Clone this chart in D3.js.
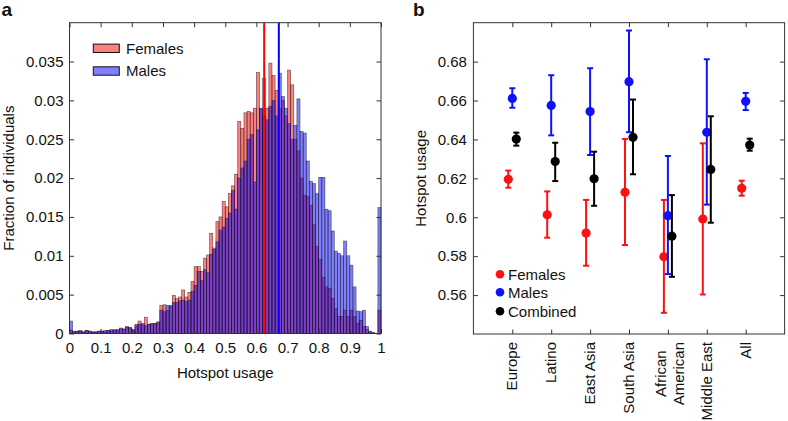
<!DOCTYPE html>
<html><head><meta charset="utf-8">
<script src="https://cdn.jsdelivr.net/npm/d3@7"></script>
<style>
body{margin:0;background:#fff}
svg{display:block}
text{font-family:"Liberation Sans",Arial,Helvetica,sans-serif;fill:#111}
</style>
</head><body>
<svg id="chart" width="788" height="421"></svg>
<script>
// ---------- Panel a data ----------
const binWidth = 0.01;
const females = [
 0.0004,0.0002,0.0003,0.0003,0.0002,0.0004,0.0003,0.0002,0.0002,0.0003,
 0.0003,0.0002,0.0004,0.0003,0.0005,0.0004,0.0007,0.0005,0.0008,0.0007,
 0.0005,0.0012,0.0016,0.0011,0.0021,0.0012,0.0013,0.0013,0.0015,0.0036,
 0.0037,0.0030,0.0036,0.0049,0.0045,0.0047,0.0056,0.0047,0.0053,0.0067,
 0.0086,0.0086,0.0080,0.0097,0.0101,0.0129,0.0110,0.0144,0.0150,0.0170,
 0.0163,0.0180,0.0190,0.0205,0.0273,0.0264,0.0284,0.0286,0.0284,0.0290,
 0.0336,0.0289,0.0328,0.0290,0.0348,0.0332,0.0313,0.0290,0.0300,0.0280,
 0.0339,0.0320,0.0250,0.0235,0.0200,0.0178,0.0176,0.0165,0.0140,0.0112,
 0.0095,0.0072,0.0060,0.0058,0.0045,0.0032,0.0022,0.0022,0.0030,0.0022,
 0.0030,0.0022,0.0013,0.0017,0.0009,0.0005,0.0002,0.0001,0.0000,0.0030
];
const males = [
 0.0016,0.0003,0.0003,0.0004,0.0002,0.0004,0.0003,0.0002,0.0002,0.0003,
 0.0003,0.0004,0.0004,0.0005,0.0004,0.0005,0.0006,0.0006,0.0009,0.0008,
 0.0004,0.0010,0.0012,0.0013,0.0010,0.0012,0.0012,0.0013,0.0014,0.0030,
 0.0028,0.0036,0.0035,0.0040,0.0040,0.0042,0.0043,0.0041,0.0043,0.0054,
 0.0062,0.0080,0.0068,0.0082,0.0078,0.0102,0.0108,0.0118,0.0133,0.0137,
 0.0148,0.0155,0.0184,0.0160,0.0200,0.0213,0.0222,0.0250,0.0256,0.0195,
 0.0262,0.0290,0.0280,0.0275,0.0292,0.0300,0.0280,0.0335,0.0305,0.0290,
 0.0270,0.0250,0.0268,0.0302,0.0260,0.0258,0.0222,0.0196,0.0193,0.0180,
 0.0201,0.0201,0.0160,0.0158,0.0132,0.0106,0.0103,0.0100,0.0119,0.0100,
 0.0088,0.0060,0.0029,0.0028,0.0030,0.0009,0.0003,0.0001,0.0000,0.0162
];
const femaleMean = 0.625;
const maleMean = 0.672;
const histXTicks = [0,0.1,0.2,0.3,0.4,0.5,0.6,0.7,0.8,0.9,1];
const histXTickLabels = ["0","0.1","0.2","0.3","0.4","0.5","0.6","0.7","0.8","0.9","1"];
const histYTicks = [0,0.005,0.01,0.015,0.02,0.025,0.03,0.035];
const histYTickLabels = ["0","0.005","0.01","0.015","0.02","0.025","0.03","0.035"];
const histLegend = ["Females","Males"];

// ---------- Panel b data ----------
const categories = ["Europe","Latino","East Asia","South Asia","African American","Middle East","All"];
const femaleVal  = [0.6195,0.6013,0.5919,0.6128,0.5797,0.5991,0.6149];
const femaleLow  = [0.6152,0.5895,0.5751,0.5857,0.5509,0.5603,0.6111];
const femaleHigh = [0.6240,0.6133,0.6089,0.6402,0.6089,0.6380,0.6188];
const maleVal    = [0.6611,0.6575,0.6543,0.6697,0.6008,0.6437,0.6596];
const maleLow    = [0.6563,0.6421,0.6320,0.6437,0.5708,0.6065,0.6551];
const maleHigh   = [0.6663,0.6730,0.6766,0.6960,0.6315,0.6812,0.6639];
const combVal    = [0.6402,0.6286,0.6198,0.6411,0.5903,0.6246,0.6371];
const combLow    = [0.6368,0.6186,0.6059,0.6221,0.5694,0.5972,0.6342];
const combHigh   = [0.6435,0.6383,0.6337,0.6605,0.6114,0.6519,0.6404];
const dotYTicks = [0.56,0.58,0.60,0.62,0.64,0.66,0.68];
const dotYTickLabels = ["0.56","0.58","0.6","0.62","0.64","0.66","0.68"];
const seriesNames = ["Females","Males","Combined"];

// ---------- drawing ----------
const svg = d3.select("#chart");
const axisColor = "#333";
const FS = 15;

function styleAxis(g){
  g.select(".domain").remove();
  g.selectAll(".tick line").attr("stroke",axisColor).attr("stroke-width",1);
  g.selectAll(".tick text").attr("font-size",FS).attr("fill","#111")
   .attr("font-family",'"Liberation Sans",Arial,Helvetica,sans-serif');
}

// ===== Panel a =====
const xA = d3.scaleLinear().domain([0,1]).range([69.5,381]);
const yA = d3.scaleLinear().domain([0,0.04]).range([333.5,22.7]);
const gA = svg.append("g");

function drawBars(vals, color){
  gA.append("g").selectAll("rect")
    .data(vals.map((v,i)=>({v,i})).filter(d=>d.v>0))
    .join("rect")
    .attr("x",d=>xA(d.i*binWidth))
    .attr("width",d=>xA((d.i+1)*binWidth)-xA(d.i*binWidth))
    .attr("y",d=>yA(d.v))
    .attr("height",d=>yA(0)-yA(d.v))
    .attr("fill",color).attr("fill-opacity",0.5)
    .attr("stroke","#1a1a1a").attr("stroke-opacity",0.7).attr("stroke-width",0.6);
}
drawBars(females,"rgb(255,0,0)");
drawBars(males,"rgb(0,0,255)");

gA.append("line").attr("x1",xA(femaleMean)).attr("x2",xA(femaleMean))
  .attr("y1",yA(0)).attr("y2",yA(0.04)).attr("stroke","#ff0000").attr("stroke-width",2);
gA.append("line").attr("x1",xA(maleMean)).attr("x2",xA(maleMean))
  .attr("y1",yA(0)).attr("y2",yA(0.04)).attr("stroke","#0000ff").attr("stroke-width",2);

gA.append("g").attr("transform",`translate(0,${yA(0)})`)
  .call(d3.axisBottom(xA).tickValues(histXTicks).tickFormat((d,i)=>histXTickLabels[i])
    .tickSizeInner(-4.5).tickSizeOuter(0).tickPadding(9)).call(styleAxis);
gA.append("g").attr("transform",`translate(0,${yA(0.04)})`)
  .call(d3.axisTop(xA).tickValues(histXTicks).tickFormat("")
    .tickSizeInner(-4.5).tickSizeOuter(0)).call(styleAxis);
gA.append("g").attr("transform",`translate(${xA(0)},0)`)
  .call(d3.axisLeft(yA).tickValues(histYTicks).tickFormat((d,i)=>histYTickLabels[i])
    .tickSizeInner(-4.5).tickSizeOuter(0).tickPadding(6)).call(styleAxis);
gA.append("g").attr("transform",`translate(${xA(1)},0)`)
  .call(d3.axisRight(yA).tickValues(histYTicks).tickFormat("")
    .tickSizeInner(-4.5).tickSizeOuter(0)).call(styleAxis);
gA.append("rect").attr("x",xA(0)).attr("y",yA(0.04))
  .attr("width",xA(1)-xA(0)).attr("height",yA(0)-yA(0.04))
  .attr("fill","none").attr("stroke",axisColor).attr("stroke-width",1);

// legend a
const legA = gA.append("g");
[["rgb(255,0,0)",48.3],["rgb(0,0,255)",71]].forEach((c,i)=>{
  legA.append("rect").attr("x",93.3).attr("y",c[1]-4.2).attr("width",26).attr("height",8.4)
    .attr("fill",c[0]).attr("fill-opacity",0.5).attr("stroke","#111").attr("stroke-width",1);
  legA.append("text").attr("x",126).attr("y",c[1]+5.2).attr("font-size",FS).text(histLegend[i]);
});

gA.append("text").attr("x",(xA(0)+xA(1))/2).attr("y",377.5).attr("text-anchor","middle")
  .attr("font-size",FS).text("Hotspot usage");
gA.append("text").attr("transform",`translate(14,${(yA(0)+yA(0.04))/2}) rotate(-90)`)
  .attr("text-anchor","middle").attr("font-size",FS).text("Fraction of individuals");
svg.append("text").attr("x",1.5).attr("y",16).attr("font-size",19).attr("font-weight","bold").text("a");

// ===== Panel b =====
const xB = d3.scaleLinear().domain([-1,categories.length]).range([473.4,784.6]);
const yB = d3.scaleLinear().domain([0.54,0.70]).range([334,22.7]);
const gB = svg.append("g");
const idx = categories.map((c,i)=>i);

gB.append("g").attr("transform",`translate(0,${yB(0.54)})`)
  .call(d3.axisBottom(xB).tickValues(idx).tickFormat("").tickSizeInner(-4.5).tickSizeOuter(0)).call(styleAxis);
gB.append("g").attr("transform",`translate(0,${yB(0.70)})`)
  .call(d3.axisTop(xB).tickValues(idx).tickFormat("").tickSizeInner(-4.5).tickSizeOuter(0)).call(styleAxis);
gB.append("g").attr("transform",`translate(${xB(-1)},0)`)
  .call(d3.axisLeft(yB).tickValues(dotYTicks).tickFormat((d,i)=>dotYTickLabels[i])
    .tickSizeInner(-4.5).tickSizeOuter(0).tickPadding(6.5)).call(styleAxis);
gB.append("g").attr("transform",`translate(${xB(categories.length)},0)`)
  .call(d3.axisRight(yB).tickValues(dotYTicks).tickFormat("").tickSizeInner(-4.5).tickSizeOuter(0)).call(styleAxis);
gB.append("rect").attr("x",xB(-1)).attr("y",yB(0.70))
  .attr("width",xB(categories.length)-xB(-1)).attr("height",yB(0.54)-yB(0.70))
  .attr("fill","none").attr("stroke",axisColor).attr("stroke-width",1);

const series = [
  {vals:femaleVal,lo:femaleLow,hi:femaleHigh,color:"#ff1010",off:-4},
  {vals:maleVal,lo:maleLow,hi:maleHigh,color:"#1010ff",off:0},
  {vals:combVal,lo:combLow,hi:combHigh,color:"#000000",off:4}
];
series.forEach(s=>{
  const g = gB.append("g");
  s.vals.forEach((v,i)=>{
    const cx = xB(i)+s.off;
    g.append("line").attr("x1",cx).attr("x2",cx).attr("y1",yB(s.lo[i])).attr("y2",yB(s.hi[i]))
      .attr("stroke",s.color).attr("stroke-width",2);
    [s.lo[i],s.hi[i]].forEach(e=>{
      g.append("line").attr("x1",cx-3).attr("x2",cx+3).attr("y1",yB(e)).attr("y2",yB(e))
        .attr("stroke",s.color).attr("stroke-width",2);
    });
    g.append("circle").attr("cx",cx).attr("cy",yB(v)).attr("r",4.6).attr("fill",s.color);
  });
});

// category labels (rotated, wrapped)
const labG = gB.append("g");
categories.forEach((c,i)=>{
  const lines = c.length>12 ? c.split(" ") : [c];
  const n = lines.length;
  const t = labG.append("g");
  const texts = lines.map((ln,j)=> t.append("text").attr("font-size",FS).attr("text-anchor","middle").text(ln));
  const maxW = d3.max(texts, tx=>tx.node().getComputedTextLength());
  texts.forEach((tx,j)=>{
    const bx = xB(i) + 5 + (n>1?1.8:0) + (j-(n-1)/2)*17.6;
    tx.attr("transform",`translate(${bx},${342+maxW/2}) rotate(-90)`);
  });
});

gB.append("text").attr("transform",`translate(426,${(yB(0.54)+yB(0.70))/2}) rotate(-90)`)
  .attr("text-anchor","middle").attr("font-size",FS).text("Hotspot usage");

// legend b
const legB = gB.append("g");
[274.3,292.3,311.3].forEach((y,i)=>{
  legB.append("circle").attr("cx",500).attr("cy",y).attr("r",4.3).attr("fill",series[i].color);
  legB.append("text").attr("x",508).attr("y",y+5.3).attr("font-size",FS).text(seriesNames[i]);
});
svg.append("text").attr("x",413).attr("y",16).attr("font-size",19).attr("font-weight","bold").text("b");
</script>
</body></html>
